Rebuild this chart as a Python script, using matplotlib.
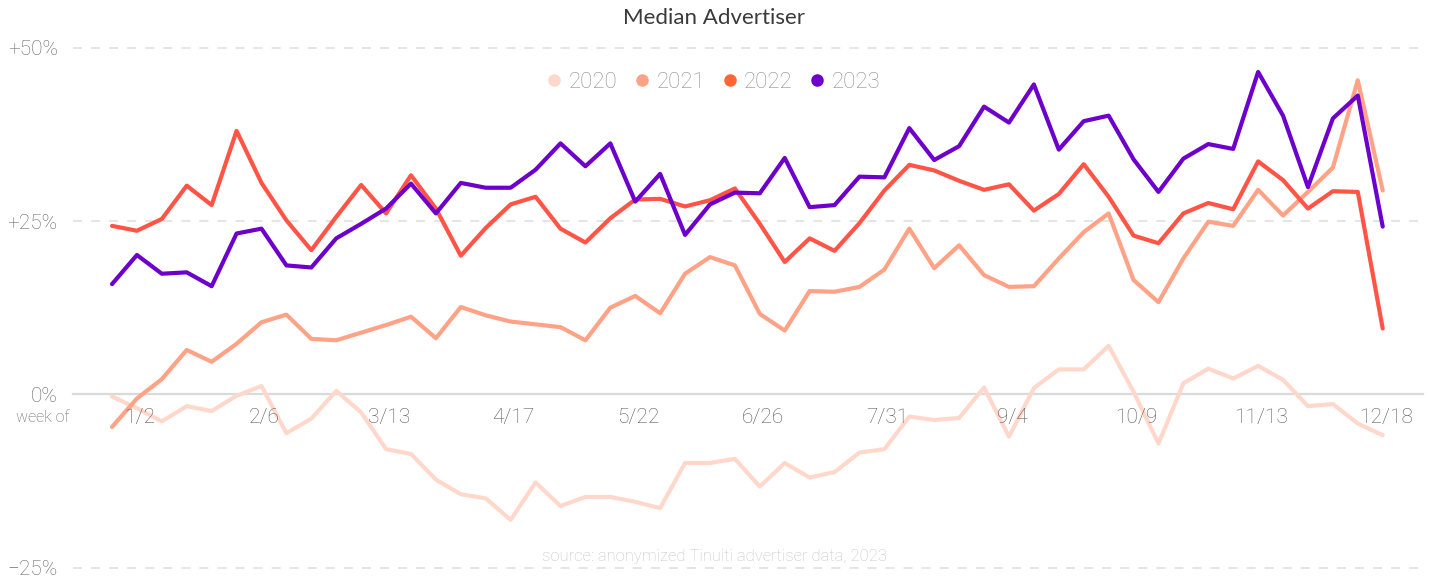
import matplotlib
matplotlib.use("Agg")
import matplotlib.pyplot as plt
from matplotlib.lines import Line2D

# ---- data ----
years = ["2020", "2021", "2022", "2023"]
tick_labels = ["1/2", "2/6", "3/13", "4/17", "5/22", "6/26", "7/31", "9/4", "10/9", "11/13", "12/18"]
tick_index = [1, 6, 11, 16, 21, 26, 31, 36, 41, 46, 51]

y2020 = [-0.3, -2.0, -3.9, -1.7, -2.4, -0.2, 1.2, -5.6, -3.5, 0.5,
         -2.6, -7.9, -8.6, -12.3, -14.4, -15.0, -18.1, -12.7, -16.1, -14.8,
         -14.8, -15.5, -16.4, -9.9, -9.9, -9.3, -13.3, -9.9, -12.0, -11.2,
         -8.4, -7.9, -3.2, -3.7, -3.4, 1.0, -6.1, 0.9, 3.6, 3.6,
         7.0, 0.4, -7.1, 1.6, 3.7, 2.3, 4.1, 2.1, -1.7, -1.4,
         -4.2, -5.9]
y2021 = [-4.7, -0.6, 2.2, 6.4, 4.7, 7.3, 10.4, 11.5, 8.0, 7.8,
         8.9, 10.0, 11.2, 8.1, 12.6, 11.4, 10.5, 10.1, 9.7, 7.8,
         12.5, 14.2, 11.7, 17.4, 19.8, 18.6, 11.6, 9.2, 14.9, 14.8,
         15.5, 18.0, 23.9, 18.2, 21.5, 17.2, 15.5, 15.6, 19.6, 23.4,
         26.1, 16.5, 13.3, 19.6, 24.9, 24.3, 29.5, 25.8, 29.2, 32.7,
         45.3, 29.4]
y2022 = [24.3, 23.6, 25.3, 30.1, 27.3, 38.0, 30.5, 25.1, 20.8, 25.6,
         30.2, 26.1, 31.6, 26.8, 20.0, 24.0, 27.4, 28.5, 23.9, 21.9,
         25.4, 28.1, 28.2, 27.1, 28.0, 29.7, 24.6, 19.1, 22.5, 20.7,
         24.7, 29.4, 33.1, 32.3, 30.8, 29.5, 30.3, 26.5, 28.9, 33.2,
         28.5, 22.9, 21.8, 26.1, 27.6, 26.7, 33.6, 30.9, 26.8, 29.3,
         29.2, 9.5]
y2023 = [15.9, 20.1, 17.4, 17.6, 15.6, 23.2, 23.9, 18.6, 18.3, 22.5,
         24.6, 26.8, 30.4, 26.1, 30.5, 29.8, 29.8, 32.4, 36.2, 32.9,
         36.2, 27.8, 31.8, 23.0, 27.4, 29.1, 29.0, 34.1, 27.0, 27.3,
         31.4, 31.3, 38.4, 33.8, 35.8, 41.5, 39.2, 44.7, 35.3, 39.4,
         40.2, 33.9, 29.2, 34.0, 36.1, 35.4, 46.5, 40.2, 29.9, 39.8,
         43.1, 24.2]
series = [y2020, y2021, y2022, y2023]

yticks = [-25, 0, 25, 50]
ytick_labels = ["\u221225%", "0%", "+25%", "+50%"]

line_colors = ["#FFD8CB", "#FFA285", "#FF5446", "#6E00CC"]
legend_colors = ["#FFD8CB", "#FFA285", "#FF6633", "#6E00CC"]

W, H = 1429, 581
fig = plt.figure(figsize=(W / 100, H / 100), dpi=100)
fig.patch.set_facecolor("white")

left_px, right_px = 73, 1423
top_px, bot_px = 47.7, 567.7
ax = fig.add_axes([left_px / W, (H - bot_px) / H, (right_px - left_px) / W, (bot_px - top_px) / H])
ax.set_facecolor("none")

n = len(y2020)
xs = list(range(n))
step = (1382.7 - 112) / (n - 1)
ax.set_xlim(0 - (112 - left_px) / step, (n - 1) + (right_px - 1382.7) / step)
ax.set_ylim(-25, 50)

for s in ["top", "right", "left", "bottom"]:
    ax.spines[s].set_visible(False)

for v in yticks:
    if v == 0:
        ax.axhline(v, color="#DADADA", lw=1.6, zorder=1, clip_on=False)
    else:
        ax.axhline(v, color="#E3E3E3", lw=1.3, ls=(0, (5, 5)), zorder=1, clip_on=False)

for ys, c in zip(series, line_colors):
    ax.plot(xs, ys, color=c, lw=3.0, solid_joinstyle="round", solid_capstyle="round", zorder=3)

tick_font = dict(family=["Roboto", "DejaVu Sans"], fontweight="light")
ax.set_yticks(yticks)
ax.set_yticklabels(ytick_labels, fontsize=15, color="#666666", **tick_font)
ax.tick_params(axis="y", length=0, pad=11)
ax.set_xticks([])

px_per_unit = (bot_px - top_px) / 75.0
lab_y = -(417.7 - 394.3) / px_per_unit
for i, lab in zip(tick_index, tick_labels):
    ax.text(i + 0.12, lab_y, lab, ha="center", va="center", fontsize=15, color="#5A5A5A", **tick_font)

fig.text(69 / W, 1 - 418 / H, "week of", ha="right", va="center", fontsize=11.5,
         color="#666666", **tick_font)

fig.text(714 / W, 1 - 17.5 / H, "Median Advertiser", ha="center", va="center", fontsize=16,
         color="#3A3A3A", family=["Lato", "DejaVu Sans"], fontweight="normal")

fig.text(714 / W, 1 - 556 / H, "source: anonymized Tinuiti advertiser data, 2023", ha="center",
         va="center", fontsize=12, color="#C4C4C4", **tick_font)

handles = [Line2D([], [], ls="none", marker="o", markersize=9, markerfacecolor=c,
                  markeredgecolor="none") for c in legend_colors]
leg = fig.legend(handles, years, loc="center", bbox_to_anchor=(714 / W, 1 - 82 / H), ncol=4,
                 frameon=False, handlelength=0.6, handletextpad=0.35,
                 columnspacing=0.8, prop=dict(family=["Roboto", "DejaVu Sans"], weight="light", size=16))
for t in leg.get_texts():
    t.set_color("#8F8F8F")

fig.savefig("out.png", dpi=100, facecolor="white")
